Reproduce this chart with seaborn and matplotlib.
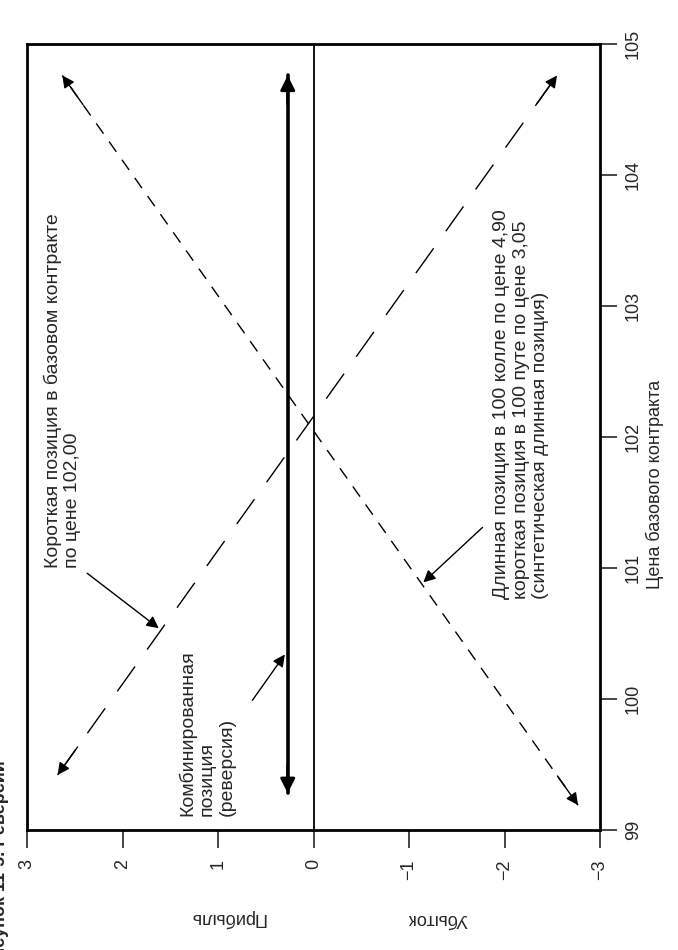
import numpy as np
import pandas as pd
import seaborn as sns
import matplotlib.pyplot as plt

# the page is turned: profit/loss runs along the bottom (3 on the left, -3 on the right)
# and the underlying price runs up the right side
profit_ticks = [3, 2, 1, 0, -1, -2, -3]
price_ticks = [99, 100, 101, 102, 103, 104, 105]

# short underlying at 102,00
short_price = [99.42, 104.76]
short_pl = [2.68, -2.55]
# long 100 call at 4,90 + short 100 put at 3,05 (synthetic long)
synth_price = [99.19, 104.76]
synth_pl = [-2.77, 2.63]
# combined position (reversal)
combo_price = [99.28, 104.76]
combo_pl = [0.27, 0.27]

sns.set_style("white")
plt.rcParams["font.family"] = ["Liberation Sans", "DejaVu Sans"]

fig = plt.figure(figsize=(6.78, 9.5), dpi=100)
ax = fig.add_axes([27 / 678, 1 - 830 / 950, 573 / 678, 786 / 950])

lines = pd.DataFrame({
    "pl": short_pl + synth_pl + combo_pl,
    "price": short_price + synth_price + combo_price,
    "pos": ["short"] * 2 + ["synth"] * 2 + ["combo"] * 2,
})

sns.lineplot(data=lines[lines.pos == "short"], x="pl", y="price", estimator=None, sort=False,
             color="black", lw=1.0, ax=ax, linestyle=(0, (22, 15)))
sns.lineplot(data=lines[lines.pos == "synth"], x="pl", y="price", estimator=None, sort=False,
             color="black", lw=1.0, ax=ax, linestyle=(0, (9, 7)))
sns.lineplot(data=lines[lines.pos == "combo"], x="pl", y="price", estimator=None, sort=False,
             color="black", lw=2.6, ax=ax)
ax.axvline(0, color="black", lw=1.3)

# arrow heads at both ends of each line
def heads(pl, price, lw, size):
    for a, b in [(0, 1), (1, 0)]:
        tail = (pl[a] + (pl[b] - pl[a]) * 0.04, price[a] + (price[b] - price[a]) * 0.04)
        ax.annotate("", xy=(pl[a], price[a]), xytext=tail,
                    arrowprops=dict(arrowstyle="-|>", color="black", lw=lw,
                                    mutation_scale=size, shrinkA=0, shrinkB=0))

heads(short_pl, short_price, 1.0, 18)
heads(synth_pl, synth_price, 1.0, 18)
heads(combo_pl, combo_price, 2.0, 22)

ax.set_xlim(3, -3)
ax.set_ylim(99, 105)
ax.set_xticks(profit_ticks)
ax.set_xticklabels([str(t).replace("-", "\u2212") for t in profit_ticks])
ax.set_yticks(price_ticks)
ax.yaxis.tick_right()
ax.tick_params(axis="x", direction="out", length=13, width=1.2, labelsize=13, labelrotation=90, pad=8,
               bottom=True)
ax.tick_params(axis="y", direction="out", length=12, width=1.2, labelsize=13, labelrotation=90, pad=6,
               right=True, left=False)
for lab in ax.get_yticklabels():
    lab.set_va("center")
for s in ax.spines.values():
    s.set_color("black")
    s.set_linewidth(2.0)

ax.set_xlabel("")
ax.yaxis.set_label_position("right")
ax.set_ylabel("Цена базового контракта", fontsize=13, rotation=90)
ax.yaxis.set_label_coords(1.08, 0.44)

# profit / loss labels sit upside down under the axis
tr = ax.get_xaxis_transform()
ax.text(0.9, -0.112, "Прибыль", transform=tr, rotation=180, fontsize=13, ha="center", va="center")
ax.text(-1.3, -0.112, "Убыток", transform=tr, rotation=180, fontsize=13, ha="center", va="center")

txt = dict(rotation=90, fontsize=14, ha="left", va="bottom", multialignment="left", linespacing=1.2)
arr = dict(arrowstyle="-|>", color="black", lw=1.0, mutation_scale=18, shrinkA=0, shrinkB=0)

ax.text(2.83, 101.0, "Короткая позиция в базовом контракте\nпо цене 102,00", **txt)
ax.annotate("", xy=(1.62, 100.54), xytext=(2.37, 100.96), arrowprops=arr)

ax.text(1.42, 99.11, "Комбинированная\nпозиция\n(реверсия)", **txt)
ax.annotate("", xy=(0.3, 100.34), xytext=(0.64, 99.99), arrowprops=arr)

ax.text(-1.88, 100.76, "Длинная позиция в 100 колле по цене 4,90\n"
        "короткая позиция в 100 путе по цене 3,05\n(синтетическая длинная позиция)", **txt)
ax.annotate("", xy=(-1.15, 100.89), xytext=(-1.77, 101.31), arrowprops=arr)

# caption cut off at the page edge
fig.text(9 / 678, 1 - 760 / 950, "Рисунок 11-5. Реверсии", rotation=90, fontsize=13,
         fontweight="bold", ha="right", va="top")

fig.savefig("out.png", dpi=100)
